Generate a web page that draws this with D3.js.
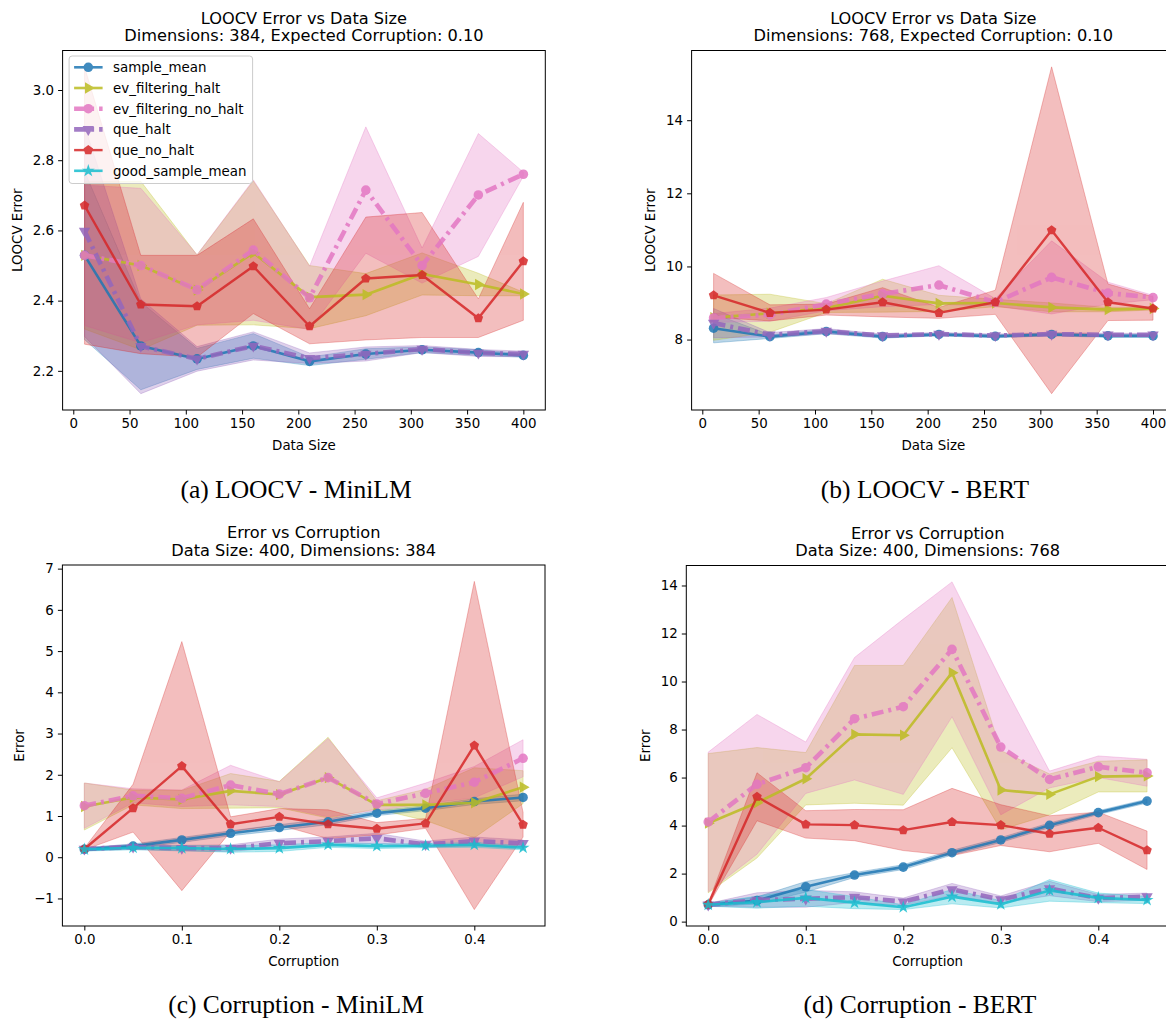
<!DOCTYPE html>
<html>
<head>
<meta charset="utf-8">
<script src="https://cdn.jsdelivr.net/npm/d3@7"></script>
<style>
  body { margin: 0; background: #fff; }
  svg { display: block; }
  text { font-family: "DejaVu Sans", sans-serif; fill: #000; }
  .caption { font-family: "Liberation Serif", "DejaVu Serif", serif; }
</style>
</head>
<body>
<svg id="fig" width="1166" height="1019"></svg>
<script>
// ---------- data ----------
const seriesNames = ["sample_mean", "ev_filtering_halt", "ev_filtering_no_halt", "que_halt", "que_no_halt", "good_sample_mean"];

const dataSizes = [10, 60, 110, 160, 210, 260, 310, 360, 400];
const corruptionLevels = [0.0, 0.05, 0.10, 0.15, 0.20, 0.25, 0.30, 0.35, 0.40, 0.45];

const dataSizeTicks = [0, 50, 100, 150, 200, 250, 300, 350, 400];
const corruptionTicks = [0.0, 0.1, 0.2, 0.3, 0.4];
const loocvMiniLMTicks = [2.2, 2.4, 2.6, 2.8, 3.0];
const loocvBertTicks = [8, 10, 12, 14];
const corrMiniLMTicks = [-1, 0, 1, 2, 3, 4, 5, 6, 7];
const corrBertTicks = [0, 2, 4, 6, 8, 10, 12, 14];

// (a) LOOCV - MiniLM : mean and standard deviation per data size
const aSampleMean     = [2.529, 2.271, 2.234, 2.271, 2.227, 2.248, 2.260, 2.252, 2.244];
const aSampleMeanSd   = [0.240, 0.125, 0.030, 0.035, 0.012, 0.015, 0.008, 0.008, 0.005];
const aEvHalt         = [2.529, 2.500, 2.430, 2.536, 2.410, 2.417, 2.476, 2.446, 2.419];
const aEvHaltSd       = [0.210, 0.240, 0.100, 0.205, 0.090, 0.060, 0.060, 0.032, 0.005];
const aEvNoHalt       = [2.529, 2.500, 2.431, 2.544, 2.408, 2.715, 2.500, 2.701, 2.760];
const aEvNoHaltSd     = [0.200, 0.220, 0.100, 0.200, 0.090, 0.180, 0.050, 0.175, 0.006];
const aQueHalt        = [2.598, 2.270, 2.234, 2.271, 2.236, 2.248, 2.262, 2.251, 2.248];
const aQueHaltSd      = [0.300, 0.135, 0.035, 0.040, 0.015, 0.020, 0.010, 0.010, 0.008];
const aQueNoHalt      = [2.671, 2.389, 2.384, 2.498, 2.327, 2.463, 2.473, 2.350, 2.512];
const aQueNoHaltSd    = [0.395, 0.140, 0.145, 0.135, 0.050, 0.175, 0.178, 0.055, 0.168];

// (b) LOOCV - BERT
const bSampleMean     = [8.31, 8.08, 8.22, 8.08, 8.14, 8.09, 8.14, 8.10, 8.10];
const bSampleMeanSd   = [0.40, 0.05, 0.06, 0.04, 0.04, 0.04, 0.04, 0.04, 0.04];
const bEvHalt         = [8.60, 8.72, 8.86, 9.20, 8.99, 9.00, 8.88, 8.82, 8.85];
const bEvHaltSd       = [0.62, 0.52, 0.12, 0.45, 0.22, 0.10, 0.12, 0.06, 0.04];
const bEvNoHalt       = [8.59, 8.68, 8.97, 9.25, 9.49, 9.02, 9.70, 9.27, 9.15];
const bEvNoHaltSd     = [0.12, 0.18, 0.18, 0.35, 0.53, 0.10, 1.00, 0.30, 0.06];
const bQueHalt        = [8.45, 8.13, 8.23, 8.11, 8.15, 8.11, 8.15, 8.13, 8.13];
const bQueHaltSd      = [0.40, 0.06, 0.07, 0.04, 0.04, 0.04, 0.04, 0.04, 0.04];
const bQueNoHalt      = [9.21, 8.73, 8.82, 9.02, 8.73, 9.02, 10.99, 9.02, 8.85];
const bQueNoHaltSd    = [0.60, 0.22, 0.15, 0.40, 0.15, 0.33, 4.47, 0.50, 0.32];

// (c) Corruption - MiniLM : mean and standard deviation per corruption level
const cSampleMean     = [0.19, 0.27, 0.42, 0.58, 0.72, 0.86, 1.07, 1.19, 1.35, 1.45];
const cSampleMeanSd   = [0.04, 0.05, 0.06, 0.06, 0.07, 0.07, 0.06, 0.06, 0.07, 0.08];
const cEvHalt         = [1.23, 1.45, 1.40, 1.61, 1.52, 1.93, 1.27, 1.27, 1.32, 1.70];
const cEvHaltSd       = [0.57, 0.18, 0.22, 0.42, 0.32, 0.98, 0.10, 0.38, 0.85, 0.40];
const cEvNoHalt       = [1.25, 1.49, 1.43, 1.75, 1.53, 1.93, 1.29, 1.55, 1.82, 2.40];
const cEvNoHaltSd     = [0.55, 0.17, 0.20, 0.48, 0.30, 0.95, 0.15, 0.25, 0.38, 0.45];
const cQueHalt        = [0.20, 0.25, 0.22, 0.22, 0.34, 0.39, 0.46, 0.31, 0.39, 0.34];
const cQueHaltSd      = [0.04, 0.06, 0.07, 0.08, 0.10, 0.10, 0.12, 0.08, 0.10, 0.08];
const cQueNoHalt      = [0.20, 1.19, 2.21, 0.80, 0.98, 0.80, 0.69, 0.82, 2.71, 0.79];
const cQueNoHaltSd    = [0.02, 0.58, 3.02, 0.18, 0.20, 0.35, 0.15, 0.12, 3.98, 0.30];
const cGoodMean       = [0.19, 0.23, 0.22, 0.20, 0.22, 0.30, 0.27, 0.28, 0.30, 0.23];
const cGoodMeanSd     = [0.04, 0.05, 0.06, 0.08, 0.08, 0.06, 0.06, 0.05, 0.06, 0.05];

// (d) Corruption - BERT
const dSampleMean     = [0.70, 0.88, 1.45, 1.94, 2.27, 2.87, 3.40, 4.01, 4.54, 5.02];
const dSampleMeanSd   = [0.08, 0.15, 0.22, 0.10, 0.10, 0.10, 0.10, 0.10, 0.08, 0.08];
const dEvHalt         = [4.10, 4.95, 5.95, 7.80, 7.76, 10.37, 5.48, 5.30, 6.04, 6.07];
const dEvHaltSd       = [2.90, 2.30, 1.09, 2.87, 2.91, 3.13, 1.65, 0.85, 0.64, 0.67];
const dEvNoHalt       = [4.15, 5.72, 6.41, 8.45, 8.95, 11.34, 7.27, 5.92, 6.45, 6.20];
const dEvNoHaltSd     = [2.91, 2.91, 1.07, 2.55, 3.65, 2.81, 2.82, 0.35, 0.45, 0.56];
const dQueHalt        = [0.70, 0.90, 0.95, 1.02, 0.83, 1.34, 0.92, 1.38, 0.98, 1.04];
const dQueHaltSd      = [0.06, 0.30, 0.35, 0.22, 0.15, 0.25, 0.15, 0.30, 0.15, 0.15];
const dQueNoHalt      = [0.72, 5.20, 4.05, 4.02, 3.81, 4.15, 4.02, 3.66, 3.91, 2.97];
const dQueNoHaltSd    = [0.05, 1.00, 0.57, 0.65, 0.85, 1.40, 0.85, 0.75, 0.65, 0.80];
const dGoodMean       = [0.70, 0.81, 0.99, 0.79, 0.60, 1.04, 0.72, 1.30, 0.99, 0.90];
const dGoodMeanSd     = [0.06, 0.25, 0.35, 0.25, 0.10, 0.30, 0.15, 0.45, 0.20, 0.15];

// ---------- styles ----------
const styles = {
  sample_mean:          { color: "#1f77b4", marker: "circle",   width: 2.6, dash: null },
  ev_filtering_halt:    { color: "#bcbd22", marker: "right",    width: 2.6, dash: null },
  ev_filtering_no_halt: { color: "#e377c2", marker: "circle",   width: 4.6, dash: "12,5,3,5" },
  que_halt:             { color: "#9467bd", marker: "down",     width: 4.6, dash: "12,5,3,5" },
  que_no_halt:          { color: "#d62728", marker: "pentagon", width: 2.4, dash: null },
  good_sample_mean:     { color: "#17becf", marker: "star",     width: 2.6, dash: null }
};
const LINE_ALPHA = 0.85;
const FILL_ALPHA = 0.3;
const TICK_FONT = 13.4;
const TITLE_FONT = 16.2;

const panels = [
  {
    id: "a", x: dataSizes, xTicks: dataSizeTicks, xFmt: d3.format("d"),
    yTicks: loocvMiniLMTicks, yFmt: d3.format(".1f"),
    box: { left: 62.6, top: 50.5, width: 482.7, height: 359.5 },
    title: ["LOOCV Error vs Data Size", "Dimensions: 384, Expected Corruption: 0.10"],
    xLabel: "Data Size", yLabel: "LOOCV Error", yLabelOffset: 41,
    caption: "(a) LOOCV - MiniLM", captionX: 296, captionY: 498, legend: true,
    series: [
      ["sample_mean", aSampleMean, aSampleMeanSd],
      ["ev_filtering_halt", aEvHalt, aEvHaltSd],
      ["ev_filtering_no_halt", aEvNoHalt, aEvNoHaltSd],
      ["que_halt", aQueHalt, aQueHaltSd],
      ["que_no_halt", aQueNoHalt, aQueNoHaltSd]
    ]
  },
  {
    id: "b", x: dataSizes, xTicks: dataSizeTicks, xFmt: d3.format("d"),
    yTicks: loocvBertTicks, yFmt: d3.format("d"),
    box: { left: 691.6, top: 50.5, width: 483.4, height: 359.5 },
    title: ["LOOCV Error vs Data Size", "Dimensions: 768, Expected Corruption: 0.10"],
    xLabel: "Data Size", yLabel: "LOOCV Error", yLabelOffset: 37,
    caption: "(b) LOOCV - BERT", captionX: 925, captionY: 498, legend: false,
    series: [
      ["sample_mean", bSampleMean, bSampleMeanSd],
      ["ev_filtering_halt", bEvHalt, bEvHaltSd],
      ["ev_filtering_no_halt", bEvNoHalt, bEvNoHaltSd],
      ["que_halt", bQueHalt, bQueHaltSd],
      ["que_no_halt", bQueNoHalt, bQueNoHaltSd]
    ]
  },
  {
    id: "c", x: corruptionLevels, xTicks: corruptionTicks, xFmt: d3.format(".1f"),
    yTicks: corrMiniLMTicks, yFmt: d3.format("d"),
    box: { left: 62.4, top: 565, width: 482.6, height: 361 },
    title: ["Error vs Corruption", "Data Size: 400, Dimensions: 384"],
    xLabel: "Corruption", yLabel: "Error", yLabelOffset: 38.5,
    caption: "(c) Corruption - MiniLM", captionX: 296, captionY: 1013, legend: false,
    series: [
      ["sample_mean", cSampleMean, cSampleMeanSd],
      ["ev_filtering_halt", cEvHalt, cEvHaltSd],
      ["ev_filtering_no_halt", cEvNoHalt, cEvNoHaltSd],
      ["que_halt", cQueHalt, cQueHaltSd],
      ["que_no_halt", cQueNoHalt, cQueNoHaltSd],
      ["good_sample_mean", cGoodMean, cGoodMeanSd]
    ]
  },
  {
    id: "d", x: corruptionLevels, xTicks: corruptionTicks, xFmt: d3.format(".1f"),
    yTicks: corrBertTicks, yFmt: d3.format("d"),
    box: { left: 686.3, top: 565.5, width: 482.7, height: 360.5 },
    title: ["Error vs Corruption", "Data Size: 400, Dimensions: 768"],
    xLabel: "Corruption", yLabel: "Error", yLabelOffset: 36,
    caption: "(d) Corruption - BERT", captionX: 920, captionY: 1013, legend: false,
    series: [
      ["sample_mean", dSampleMean, dSampleMeanSd],
      ["ev_filtering_halt", dEvHalt, dEvHaltSd],
      ["ev_filtering_no_halt", dEvNoHalt, dEvNoHaltSd],
      ["que_halt", dQueHalt, dQueHaltSd],
      ["que_no_halt", dQueNoHalt, dQueNoHaltSd],
      ["good_sample_mean", dGoodMean, dGoodMeanSd]
    ]
  }
];

// ---------- helpers ----------
const svg = d3.select("#fig");
const defs = svg.append("defs");

function pentagonPath(r) {
  const pts = d3.range(5).map(k => {
    const a = -Math.PI / 2 + k * 2 * Math.PI / 5;
    return [r * Math.cos(a), r * Math.sin(a)];
  });
  return "M" + pts.map(p => p.join(",")).join("L") + "Z";
}

function markerShape(type) {
  switch (type) {
    case "circle":   return { d: d3.symbol(d3.symbolCircle, 72)(), rot: 0 };
    case "right":    return { d: d3.symbol(d3.symbolTriangle, 56)(), rot: 90 };
    case "down":     return { d: d3.symbol(d3.symbolTriangle, 56)(), rot: 180 };
    case "star":     return { d: d3.symbol(d3.symbolStar, 52)(), rot: 0 };
    case "pentagon": return { d: pentagonPath(5), rot: 0 };
  }
}

function drawPanel(p) {
  const g = svg.append("g").attr("class", "panel-" + p.id);
  const b = p.box;
  const right = b.left + b.width, bottom = b.top + b.height;

  // x/y limits: data range with 5% margins on each side
  const xExt = d3.extent(p.x);
  const xPad = (xExt[1] - xExt[0]) * 0.05;
  const x = d3.scaleLinear([xExt[0] - xPad, xExt[1] + xPad], [b.left, right]);

  let lo = Infinity, hi = -Infinity;
  p.series.forEach(([, mean, sd]) => mean.forEach((m, i) => {
    lo = Math.min(lo, m - sd[i]); hi = Math.max(hi, m + sd[i]);
  }));
  const yPad = (hi - lo) * 0.05;
  const y = d3.scaleLinear([lo - yPad, hi + yPad], [bottom, b.top]);

  defs.append("clipPath").attr("id", "clip-" + p.id)
    .append("rect").attr("x", b.left).attr("y", b.top).attr("width", b.width).attr("height", b.height);

  const plot = g.append("g").attr("clip-path", `url(#clip-${p.id})`);

  // shaded bands (mean ± sd) sit beneath every line
  const area = d3.area()
    .x(d => x(d.x)).y0(d => y(d.m - d.s)).y1(d => y(d.m + d.s));
  p.series.forEach(([name, mean, sd]) => {
    const st = styles[name];
    const rows = p.x.map((xv, i) => ({ x: xv, m: mean[i], s: sd[i] }));
    plot.append("path").datum(rows).attr("d", area)
      .attr("fill", st.color).attr("fill-opacity", FILL_ALPHA)
      .attr("stroke", st.color).attr("stroke-opacity", FILL_ALPHA).attr("stroke-width", 1);
  });

  // mean lines with markers
  const line = d3.line().x(d => x(d.x)).y(d => y(d.m));
  p.series.forEach(([name, mean]) => {
    const st = styles[name];
    const rows = p.x.map((xv, i) => ({ x: xv, m: mean[i] }));
    const sg = plot.append("g").attr("opacity", LINE_ALPHA);
    sg.append("path").datum(rows).attr("d", line)
      .attr("fill", "none").attr("stroke", st.color).attr("stroke-width", st.width)
      .attr("stroke-dasharray", st.dash).attr("stroke-linejoin", "round");
    const ms = markerShape(st.marker);
    sg.selectAll(".mk").data(rows).join("path").attr("class", "mk")
      .attr("d", ms.d)
      .attr("transform", d => `translate(${x(d.x)},${y(d.m)}) rotate(${ms.rot})`)
      .attr("fill", st.color);
  });

  // frame
  g.append("rect").attr("x", b.left).attr("y", b.top).attr("width", b.width).attr("height", b.height)
    .attr("fill", "none").attr("stroke", "#000").attr("stroke-width", 1);

  // axes
  const xAxis = g.append("g").attr("transform", `translate(0,${bottom})`)
    .call(d3.axisBottom(x).tickValues(p.xTicks).tickFormat(p.xFmt).tickSize(4.5).tickPadding(4));
  const yAxis = g.append("g").attr("transform", `translate(${b.left},0)`)
    .call(d3.axisLeft(y).tickValues(p.yTicks).tickFormat(p.yFmt).tickSize(4.5).tickPadding(4));
  [xAxis, yAxis].forEach(ax => {
    ax.select(".domain").remove();
    ax.attr("font-family", "DejaVu Sans, sans-serif").attr("font-size", TICK_FONT);
    ax.selectAll(".tick line").attr("stroke", "#000").attr("stroke-width", 1);
    ax.selectAll(".tick text").attr("fill", "#000");
  });

  // titles and labels
  const cx = (b.left + right) / 2;
  g.append("text").attr("x", cx).attr("y", b.top - 27).attr("text-anchor", "middle")
    .attr("font-size", TITLE_FONT).text(p.title[0]);
  g.append("text").attr("x", cx).attr("y", b.top - 9.5).attr("text-anchor", "middle")
    .attr("font-size", TITLE_FONT).text(p.title[1]);
  g.append("text").attr("x", cx).attr("y", bottom + 39.5).attr("text-anchor", "middle")
    .attr("font-size", TICK_FONT).text(p.xLabel);
  const ly = (b.top + bottom) / 2, lx = b.left - p.yLabelOffset;
  g.append("text").attr("transform", `translate(${lx},${ly}) rotate(-90)`)
    .attr("text-anchor", "middle").attr("font-size", TICK_FONT).text(p.yLabel);

  g.append("text").attr("class", "caption").attr("x", p.captionX).attr("y", p.captionY)
    .attr("text-anchor", "middle").attr("font-size", 25.5).text(p.caption);

  if (p.legend) drawLegend(g, b.left + 6.5, b.top + 5.5);
}

function drawLegend(g, lx, ly) {
  const lg = g.append("g").attr("transform", `translate(${lx},${ly})`);
  lg.append("rect").attr("width", 183.5).attr("height", 127.5).attr("rx", 3)
    .attr("fill", "#fff").attr("fill-opacity", 0.8).attr("stroke", "#cccccc").attr("stroke-width", 1);
  seriesNames.forEach((name, i) => {
    const st = styles[name];
    const yy = 11.3 + i * 20.7;
    const eg = lg.append("g").attr("opacity", LINE_ALPHA);
    eg.append("line").attr("x1", 5).attr("x2", 33.5).attr("y1", yy).attr("y2", yy)
      .attr("stroke", st.color).attr("stroke-width", st.width).attr("stroke-dasharray", st.dash);
    const ms = markerShape(st.marker);
    eg.append("path").attr("d", ms.d).attr("fill", st.color)
      .attr("transform", `translate(19.2,${yy}) rotate(${ms.rot})`);
    lg.append("text").attr("x", 44).attr("y", yy + 4.8).attr("font-size", TICK_FONT).text(name);
  });
}

panels.forEach(drawPanel);
</script>
</body>
</html>
